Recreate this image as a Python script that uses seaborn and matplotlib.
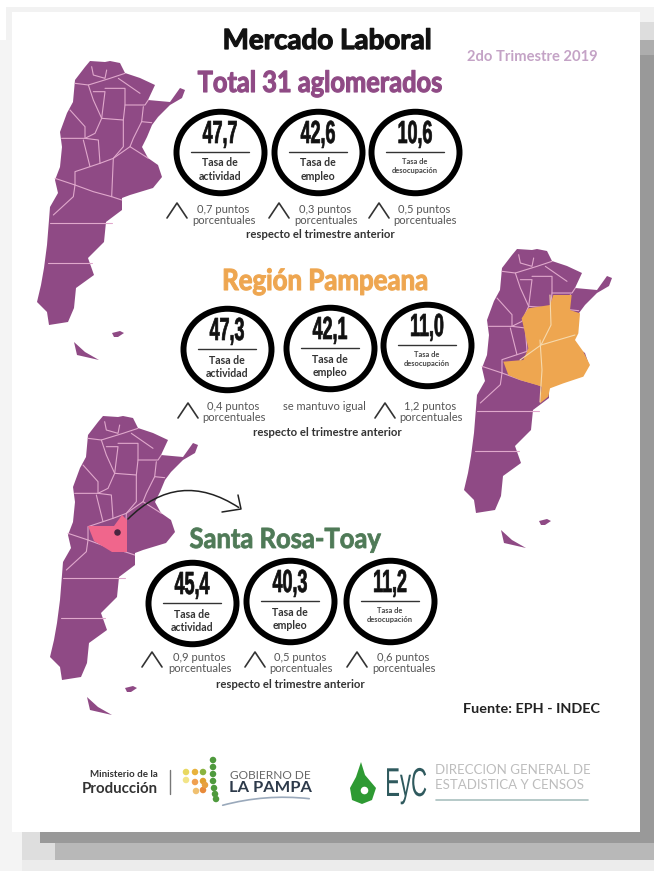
import numpy as np
import pandas as pd
import matplotlib
matplotlib.use("Agg")
import matplotlib.pyplot as plt
import seaborn as sns
from matplotlib.path import Path
from matplotlib.patches import Rectangle, FancyArrowPatch, Polygon
from matplotlib.patheffects import AbstractPathEffect
from matplotlib.transforms import Affine2D

sns.set_theme(style="white")
plt.rcParams["font.family"] = ["Lato", "DejaVu Sans"]

# Chart values
regions = ["Total 31 aglomerados", "Región Pampeana", "Santa Rosa-Toay"]
indicators = ["Tasa de\nactividad", "Tasa de\nempleo", "Tasa de\ndesocupación"]
actividad = ["47,7", "47,3", "45,4"]
empleo = ["42,6", "42,1", "40,3"]
desocupacion = ["10,6", "11,0", "11,2"]
var_actividad = ["0,7 puntos", "0,4 puntos", "0,9 puntos"]
var_empleo = ["0,3 puntos", "se mantuvo igual", "0,5 puntos"]
var_desocupacion = ["0,5 puntos", "1,2 puntos", "0,6 puntos"]

PURPLE = "#8f4a85"
ORANGE = "#eea650"
GREEN = "#4f7a57"
BORDER = "#e0a8cc"

fig = plt.figure(figsize=(6.54, 8.71), dpi=100, facecolor="white")
ax = fig.add_axes([0, 0, 1, 1])
ax.set_xlim(0, 654)
ax.set_ylim(871, 0)
ax.axis("off")


# Squeezes a text sideways around its anchor (no condensed fonts here), can thicken it too
class Squeeze(AbstractPathEffect):
    def __init__(self, sx, anchor, stroke=0):
        super().__init__()
        self.sx = sx
        self.anchor = anchor
        self.stroke = stroke

    def draw_path(self, renderer, gc, tpath, affine, rgbFace=None):
        squeezed = affine + Affine2D().translate(-self.anchor, 0).scale(self.sx, 1).translate(self.anchor, 0)
        gc0 = renderer.new_gc()
        gc0.copy_properties(gc)
        if self.stroke:
            gc0.set_foreground(rgbFace)
            gc0.set_linewidth(self.stroke)
        renderer.draw_path(gc0, tpath, squeezed, rgbFace)
        gc0.restore()


def txt(x, y, s, size, color, sx=1, stroke=0, **kw):
    kw.setdefault("ha", "center")
    t = ax.text(x, y, s, fontsize=size, color=color, va="center", zorder=8, **kw)
    if sx != 1 or stroke:
        t.set_path_effects([Squeeze(sx, x, stroke)])
    return t


# Page shadow and card
def block(x0, y0, x1, y1, color, z=0):
    ax.add_patch(Rectangle((x0, y0), x1 - x0, y1 - y0, fc=color, ec="none", zorder=z))


block(6, 7, 654, 40, "#f2f2f2")
block(0, 40, 654, 871, "#f4f4f4")
block(640, 22, 654, 40, "#dddddd")
block(640, 40, 654, 55, "#adadad")
block(640, 55, 654, 843, "#999999")
block(22, 832, 654, 860, "#dedede")
block(40, 832, 654, 843, "#999999")
block(55, 843, 654, 860, "#b8b8b8")
block(22, 860, 654, 871, "#ececec")
block(12, 12, 640, 832, "white", 1)

# Map outline, read in pixels from the first map
north = [(85, 67), (90, 61), (105, 62), (110, 61), (120, 63), (125, 73), (140, 78), (155, 85),
         (148, 100), (170, 102), (180, 88), (185, 90), (182, 98), (170, 105), (158, 117),
         (152, 125), (147, 137), (142, 147), (148, 158), (158, 165), (162, 177), (153, 188),
         (130, 195), (122, 198), (122, 210), (106, 222), (104, 242), (88, 258), (94, 275),
         (76, 288), (74, 308), (68, 322), (49, 325), (47, 312), (37, 302), (41, 285), (44, 268),
         (47, 245), (49, 220), (50, 207), (58, 193), (55, 180), (60, 167), (62, 147), (60, 132),
         (67, 113), (73, 102), (75, 80)]
fuego = [(74, 342), (77, 355), (99, 360), (85, 352)]
malvinas = [(112, 333), (120, 331), (124, 333), (118, 337), (114, 337)]


def z6(pts):
    return [(30 + x / 3, 50 + y / 3) for x, y in pts]


borders = [z6(b) for b in [
    [(135, 100), (175, 105), (190, 150), (215, 205), (280, 210)],
    [(225, 115), (285, 115), (285, 165), (280, 210), (280, 290), (250, 325), (245, 440)],
    [(190, 125), (225, 125), (215, 205), (195, 250), (165, 265), (95, 265)],
    [(285, 165), (345, 165), (355, 150)],
    [(340, 170), (335, 215), (365, 218)],
    [(335, 215), (310, 265), (300, 290), (355, 325)],
    [(300, 290), (250, 325), (210, 340), (135, 365), (135, 405), (75, 385)],
    [(165, 265), (205, 270), (210, 340)],
    [(160, 270), (180, 350)],
    [(120, 180), (165, 230), (165, 265)],
    [(135, 405), (190, 425), (245, 440), (275, 450)],
    [(135, 405), (130, 440), (70, 495)],
    [(175, 105), (240, 85), (285, 70)],
    [(185, 50), (190, 75), (225, 85), (230, 60)],
    [(265, 85), (330, 130)],
]]
borders += [[(50, 223), (112, 223)], [(48, 263), (92, 263)]]


def draw_map(dx, dy):
    for shape in (north, fuego, malvinas):
        ax.fill([p[0] + dx for p in shape], [p[1] + dy for p in shape], color=PURPLE, lw=0, zorder=2)
    for line in borders:
        ax.plot([p[0] + dx for p in line], [p[1] + dy for p in line], color=BORDER, lw=0.8, zorder=4)


draw_map(0, 0)
draw_map(427, 188)
draw_map(13, 355)

# Pampeana highlight, map 2
pampeana = [(340, 165), (395, 165), (390, 210), (420, 220), (415, 280), (405, 300), (430, 335),
            (450, 375), (430, 410), (370, 430), (330, 445), (325, 470), (300, 490), (305, 440),
            (290, 435), (240, 420), (205, 405), (190, 365), (250, 360), (265, 325), (245, 235),
            (265, 205), (330, 195)]
ax.add_patch(Polygon([(440 + x / 3, 240 + y / 3) for x, y in pampeana], fc=ORANGE, ec="none", zorder=4.5))
ax.plot([540, 542, 541, 540], [340, 370, 385, 402], color="#f6d9ac", lw=0.8, zorder=5)
ax.plot([520, 541, 575], [360, 345, 335], color="#f6d9ac", lw=0.8, zorder=5)
ax.plot([550, 551, 541], [295, 325, 345], color="#f6d9ac", lw=0.8, zorder=5)

# La Pampa highlight, map 3
ax.add_patch(Polygon([(88, 526), (114, 526), (122, 515), (127, 520), (127, 552), (112, 552), (94, 541)],
                     fc="#f0668c", ec="none", zorder=5))
ax.scatter([117], [532], s=22, c="#4a2540", lw=0, zorder=6)
ax.add_patch(FancyArrowPatch((126, 521), (241, 509), connectionstyle="arc3,rad=-0.42", arrowstyle="-",
                             color="#222222", lw=1.1, zorder=6))
ax.plot([222, 241, 238], [512, 509, 495], color="#222222", lw=1.1, zorder=6)

# Rings
ring_x = [[220, 318, 415], [227, 330, 427], [192, 290, 390]]
ring_y = [[152, 152, 152], [349, 348, 345], [603, 601, 601]]
values = [actividad, empleo, desocupacion]
variations = [var_actividad, var_empleo, var_desocupacion]

rings = pd.DataFrame({
    "x": np.ravel(ring_x),
    "y": np.ravel(ring_y),
    "valor": [values[c][r] for r in range(3) for c in range(3)],
})
oval = Path.unit_circle().transformed(Affine2D().scale(1.08, 1))
sns.scatterplot(data=rings, x="x", y="y", marker=oval, s=(88 * 0.72) ** 2, facecolor="white",
                edgecolor="black", linewidth=4.3, ax=ax, zorder=7, legend=False)
ax.set_xlim(0, 654)
ax.set_ylim(871, 0)
ax.axis("off")

for r in range(3):
    for c in range(3):
        cx, cy = ring_x[r][c], ring_y[r][c]
        txt(cx, cy - 17, values[c][r], 23, "#111111", sx=0.56, stroke=0.5,
            family=["Liberation Sans", "DejaVu Sans"], weight="bold")
        ax.plot([cx - 29, cx + 29], [cy, cy], color="#333333", lw=1, zorder=8)
        top, bottom = indicators[c].split("\n")
        if c < 2:
            txt(cx, cy + 11, top, 7.6, "#333333", weight="bold")
            txt(cx, cy + 24, bottom, 7.6, "#333333", weight="bold")
        else:
            txt(cx, cy + 9, top, 5.4, "#444444", weight="bold")
            txt(cx, cy + 18, bottom, 5.4, "#444444", weight="bold")

# Variation labels
text_x = [[223, 325, 424], [233, 324, 430], [199, 300, 403]]
text_y = [209, 406, 657]
chevron_x = [[177, 279, 379], [188, None, 385], [152, 255, 357]]
chevron_y = [203, 403, 652]
for r in range(3):
    for c in range(3):
        txt(text_x[r][c], text_y[r], variations[c][r], 8, "#555555")
        if chevron_x[r][c] is not None:
            txt(text_x[r][c] + 1, text_y[r] + 11, "porcentuales", 8, "#555555")
            x = chevron_x[r][c]
            y = chevron_y[r]
            ax.plot([x - 10, x, x + 10], [y + 15, y, y + 15], color="#333333", lw=1.2, zorder=8)

for x, y in [(320, 234), (327, 432), (290, 684)]:
    txt(x, y, "respecto el trimestre anterior", 8.2, "#333333", weight="bold")

# Titles
txt(327, 41, "Mercado Laboral", 20, "#111111", stroke=0.9, weight="bold")
txt(532, 57, "2do Trimestre 2019", 10.6, "#c4a3c6", weight="bold")
txt(320, 84, regions[0], 21, PURPLE, sx=0.87, stroke=0.8, weight="bold")
txt(325, 282, regions[1], 21, ORANGE, sx=0.885, stroke=0.8, weight="bold")
txt(285, 540, regions[2], 20, GREEN, sx=0.92, stroke=0.6, weight="bold")
txt(600, 709, "Fuente: EPH - INDEC", 10.4, "#222222", ha="right", weight="bold")

# Footer logos
txt(158, 774, "Ministerio de la", 7, "#333333", ha="right", weight="bold")
txt(158, 789, "Producción", 10.8, "#333333", ha="right", weight="bold")
ax.plot([170, 170], [770, 794], color="#777777", lw=1, zorder=8)
dots_x = [213, 213, 213, 213, 214, 215, 216, 203, 203, 195, 195, 186, 186, 203, 205, 196]
dots_y = [760, 767, 774, 781, 788, 794, 799, 772, 781, 772, 782, 772, 780, 790, 785, 791]
dots_c = ["#4f9a3d"] * 7 + ["#8ab33f", "#e0a030", "#e8b23c", "#f0a050", "#e8d860", "#f2e488", "#e88a3a", "#e8a040", "#f0c070"]
ax.scatter(dots_x, dots_y, s=22, c=dots_c, lw=0, zorder=8)
txt(230, 775, "GOBIERNO DE", 8.6, "#666666", ha="left")
txt(229, 788, "LA PAMPA", 11.8, "#2d3a4a", ha="left", weight="bold")
ax.add_patch(FancyArrowPatch((220, 806), (312, 799), connectionstyle="arc3,rad=-0.1", arrowstyle="-",
                             color="#9aa9bb", lw=1.2, zorder=8))
leaf = [(361, 762), (365, 775), (376, 788), (372, 800), (362, 804), (352, 800), (350, 788), (356, 777)]
ax.add_patch(Polygon(leaf, fc="#2e9a33", ec="none", zorder=8))
ax.scatter([364], [790], s=30, c="white", lw=0, zorder=9)
txt(427, 785, "EyC", 29, "#2f5a5e", sx=0.55, ha="right", family=["Liberation Sans", "DejaVu Sans"])
txt(435, 770, "DIRECCION GENERAL DE", 9.5, "#bdbdbd", ha="left")
txt(435, 785, "ESTADISTICA Y CENSOS", 9.5, "#bdbdbd", ha="left")
ax.plot([436, 588], [800, 800], color="#a9c0bf", lw=1.2, zorder=8)

fig.savefig("out.png", dpi=100)
